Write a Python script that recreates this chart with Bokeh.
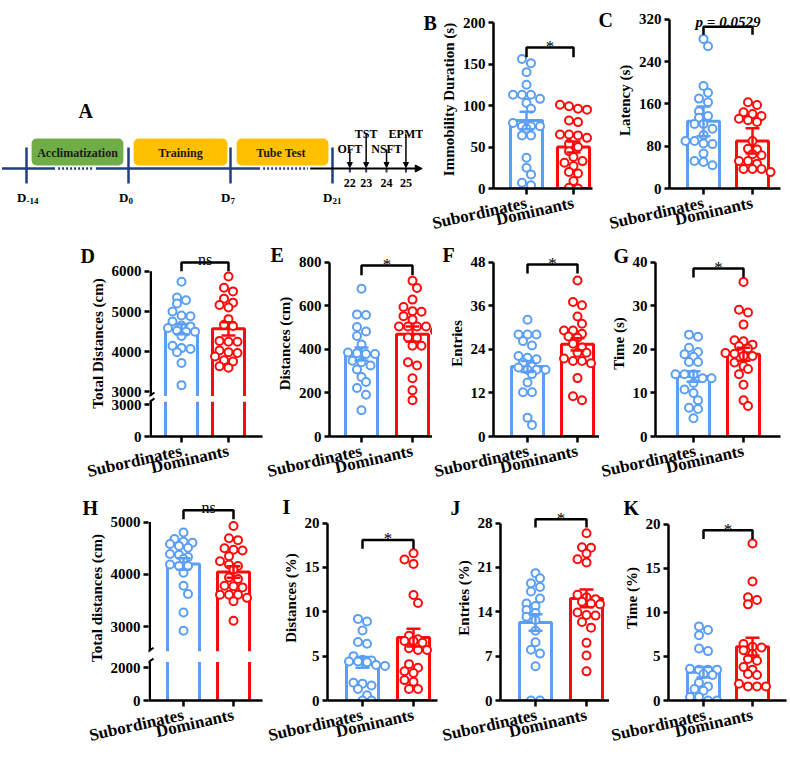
import math
from bokeh.plotting import figure
from bokeh.models import Range1d, FixedTicker, Arrow, NormalHead, ColumnDataSource, Title
from bokeh.layouts import row, column
from bokeh.core.properties import value
from bokeh.embed import file_html
from bokeh.resources import INLINE

FONT = "Liberation Serif"
BLUE = "#5A9FF5"
RED = "#FF0A0A"
NAVY = "#213F7F"

groups = ["Subordinates", "Dominants"]

# ---------------- data ----------------
B_sub = [156, 151, 140, 125, 113, 113, 113, 108, 103, 96, 79, 75, 75, 75, 72, 64, 64, 37, 25, 17, 7, 4]
B_dom = [101, 99, 96, 95, 82, 80, 65, 65, 64, 61, 54, 50, 45, 38, 33, 31, 27, 20, 18, 9, 1, 0]
B_mean = [82, 50]
B_sem = [10.5, 6.5]

C_sub = [283, 269, 194, 181, 170, 163, 146, 137, 134, 122, 122, 113, 101, 90, 90, 85, 84, 66, 52, 50, 44]
C_dom = [163, 158, 144, 141, 137, 132, 129, 126, 90, 75, 74, 65, 63, 52, 52, 47, 37, 37, 37, 31]
C_mean = [127, 90]
C_sem = [28, 24]

D_sub = [5740, 5350, 5280, 5200, 5000, 4900, 4880, 4750, 4650, 4630, 4590, 4520, 4500, 4500, 4390, 4150, 4090, 4070, 3990, 3720, 3170]
D_dom = [5870, 5590, 5500, 5320, 5220, 5160, 5100, 4810, 4670, 4640, 4270, 4250, 4250, 4030, 3990, 3970, 3880, 3790, 3760, 3640, 3600]
D_mean = [4560, 4570]
D_sem = [125, 165]

E_sub = [679, 561, 558, 503, 482, 462, 423, 386, 383, 379, 379, 348, 341, 326, 308, 273, 250, 223, 192, 121]
E_dom = [715, 682, 629, 595, 576, 573, 553, 538, 505, 505, 505, 505, 485, 455, 452, 417, 417, 341, 326, 268, 212, 167]
E_mean = [379, 470]
E_sem = [30, 35]

F_sub = [32.2, 28.1, 28.1, 28.1, 26.3, 25.1, 22.2, 21.7, 21.3, 20.4, 19.3, 19.0, 18.4, 18.4, 18.4, 17.2, 14.9, 12.2, 12.2, 5.2, 3.2]
F_dom = [43.0, 37.1, 36.2, 33.1, 31.1, 29.2, 29.2, 28.3, 27.6, 27.2, 25.6, 24.5, 23.1, 23.1, 21.5, 20.8, 20.8, 20.2, 16.1, 11.1, 10.0]
F_mean = [19.3, 25.4]
F_sem = [1.5, 1.7]

G_sub = [23.4, 22.9, 20.4, 19.4, 18.9, 18.3, 17.1, 17.1, 14.3, 14.3, 14.3, 13.4, 13.4, 12.3, 10.8, 10.0, 8.3, 6.6, 6.3, 4.2]
G_dom = [35.5, 29.1, 28.5, 25.7, 22.1, 21.9, 21.1, 20.8, 20.2, 19.2, 19.0, 18.5, 18.5, 17.0, 16.2, 15.5, 14.3, 11.9, 8.3, 7.0]
G_mean = [13.8, 18.9]
G_sem = [1.2, 1.5]

H_sub = [4800, 4675, 4625, 4605, 4580, 4545, 4510, 4390, 4375, 4330, 4295, 4190, 4160, 4160, 4030, 3780, 3625, 3270, 2920]
H_dom = [4925, 4690, 4655, 4500, 4470, 4455, 4345, 4250, 4190, 4160, 4095, 3940, 3910, 3780, 3770, 3750, 3610, 3610, 3610, 3550, 3485, 3110]
H_mean = [4200, 4045]
H_sem = [110, 110]

I_sub = [9.2, 8.9, 7.9, 6.6, 6.4, 5.0, 4.6, 4.5, 4.4, 4.4, 4.3, 4.0, 3.9, 2.0, 1.9, 1.7, 1.3, 0.6, 0.0, 0.0]
I_dom = [16.6, 15.9, 15.4, 11.9, 11.0, 7.3, 6.9, 6.7, 6.7, 6.5, 5.9, 5.7, 5.7, 4.1, 3.7, 3.3, 3.1, 2.3, 2.1, 1.3, 1.3]
I_mean = [4.3, 7.1]
I_sem = [0.6, 1.0]

J_sub = [20.1, 19.3, 18.5, 17.9, 17.2, 16.1, 15.3, 14.9, 14.3, 13.8, 13.2, 12.7, 11.0, 9.2, 8.0, 7.4, 5.4, 0.0, 0.0]
J_dom = [26.4, 24.2, 24.1, 23.2, 22.3, 21.8, 16.7, 16.3, 16.0, 15.6, 15.3, 15.2, 13.9, 13.5, 13.4, 12.4, 11.5, 9.1, 7.1, 4.6]
J_mean = [12.3, 16.1]
J_sem = [1.3, 1.4]

K_sub = [8.4, 8.0, 7.4, 5.9, 5.6, 3.6, 3.5, 3.5, 3.5, 3.0, 2.9, 2.0, 1.6, 1.3, 1.1, 0.4, 0.4, 0.0, 0.0]
K_dom = [17.8, 13.5, 11.7, 11.4, 10.9, 6.4, 6.1, 6.0, 5.7, 5.3, 4.7, 4.5, 3.8, 3.5, 3.0, 2.9, 1.9, 1.6, 1.6, 1.6]
K_mean = [3.2, 6.1]
K_sem = [0.6, 1.0]

# significance brackets: (top, drop, text)
B_sig = (170, 158, "*")
C_sig = (306, 291, "p = 0.0529")
D_sig = (6220, 6000, "ns")
E_sig = (786, 741, "*")
F_sig = (47.4, 44.9, "*")
G_sig = (38.6, 36.5, "*")
H_sig = (5226, 5057, "ns")
I_sig = (18.1, 17.1, "*")
J_sig = (28.6, 27.3, "*")
K_sig = (19.3, 18.3, "*")

# y ticks
B_ticks = [0, 50, 100, 150, 200]
C_ticks = [0, 80, 160, 240, 320]
D_ticks_up = [3000, 4000, 5000, 6000]
D_ticks_low = [0, 3000]
E_ticks = [0, 200, 400, 600, 800]
F_ticks = [0, 12, 24, 36, 48]
G_ticks = [0, 10, 20, 30, 40]
H_ticks_up = [3000, 4000, 5000]
H_ticks_low = [0, 2000]
I_ticks = [0, 5, 10, 15, 20]
J_ticks = [0, 7, 14, 21, 28]
K_ticks = [0, 5, 10, 15, 20]

# timeline schematic (panel A); x in schematic units (D-14=0, D0=1, D7=2, D21=3)
tl_ticks_u = [0, 1, 2, 3]
tl_tick_sub = ["-14", "0", "7", "21"]
phase_names = ["Acclimatization", "Training", "Tube  Test"]
phase_u0 = [0.05, 1.05, 2.06]
phase_u1 = [0.95, 1.97, 2.96]
phase_colors = ["#70AD47", "#FFC000", "#FFC000"]
tests = ["OFT", "TST", "NSFT", "EPMT"]
test_days = ["22", "23", "24", "25"]
test_u = [3.17, 3.33, 3.53, 3.72]
test_level = [149, 134, 149, 134]
solid_u0 = [-0.24, 0.68]
solid_u1 = [0.28, 2.29]
dotted_u0 = [0.31, 2.32]
dotted_u1 = [0.65, 2.76]
arrow_u = [2.78, 3.88]


# ---------------- helpers ----------------
def no_align(p):
    try:
        p.frame_align = False
    except Exception:
        pass


def swarm(vals, ppx, ppy, spacing=9.0, thresh=5.0, diam=8.5):
    n = len(vals)
    order = sorted(range(n), key=lambda i: -vals[i])
    clusters = []
    for i in order:
        yp = vals[i] * ppy
        if clusters and abs(clusters[-1][0] - yp) < thresh:
            clusters[-1][1].append(i)
        else:
            clusters.append([yp, [i]])
    placed = []
    offs = [0.0] * n
    for _, members in clusters:
        m = len(members)
        base = [(k - (m - 1) / 2.0) * spacing for k in range(m)]

        def dist(shift):
            ds = [math.hypot(b + shift - a, vals[i] * ppy - c)
                  for b, i in zip(base, members) for a, c in placed]
            return min(ds) if ds else 99.0

        best_s, best_d = 0.0, dist(0.0)
        if best_d < diam:
            for s in (spacing / 2.0, -spacing / 2.0):
                d = dist(s)
                if d > best_d + 0.5:
                    best_s, best_d = s, d
        for b, i in zip(base, members):
            offs[i] = (b + best_s) / ppx
            placed.append((b + best_s, vals[i] * ppy))
    return offs


def mapping(frame, ymap):
    l, t, r, b = frame
    (va, ya), (vb, yb) = ymap
    ppy = (ya - yb) / float(vb - va)
    y0 = va - (b - ya) / ppy
    y1 = va + (ya - t) / ppy
    return ppy, y0, y1


def make_fig(box, frame, xcat, ymap):
    fx, fy, fw, fh = box
    l, t, r, b = frame
    xc0, xc1 = xcat
    ppx = float(xc1 - xc0)
    x0 = -(xc0 - l) / ppx
    x1 = (r - xc0) / ppx
    ppy, y0, y1 = mapping(frame, ymap)
    p = figure(width=fw, height=fh, x_range=Range1d(x0, x1), y_range=Range1d(y0, y1),
               toolbar_location=None, output_backend="svg", title=None,
               min_border_left=l - fx, min_border_right=fx + fw - r,
               min_border_top=t - fy, min_border_bottom=fy + fh - b)
    no_align(p)
    p.outline_line_color = None
    p.xgrid.visible = False
    p.ygrid.visible = False
    p.border_fill_color = "white"
    p.background_fill_color = "white"
    return p, ppx, ppy, (x0, x1), (y0, y1)


def add_letter(p, txt, letter_x, baseline, frame):
    l, t, r, b = frame
    so = 2.0 * (t - 4.3 - baseline)
    kw = dict(text=txt, align="left", vertical_align="bottom", offset=letter_x - l,
              text_font=FONT, text_font_style="bold", text_font_size="20px", text_color="black")
    try:
        ttl = Title(standoff=so, **kw)
    except Exception:
        ttl = Title(standoff=0, **kw)
    p.add_layout(ttl, "above")


def style_axes(p, yticks, ybounds, ylabel=None):
    for ax in p.axis:
        ax.axis_line_width = 2.5
        ax.axis_line_color = "black"
        ax.major_tick_line_width = 2.5
        ax.major_tick_line_color = "black"
        ax.major_tick_in = 0
        ax.minor_tick_line_color = None
        ax.major_label_text_font = FONT
        ax.major_label_text_font_style = "bold"
        ax.major_label_text_color = "black"
        ax.axis_label_text_font = FONT
        ax.axis_label_text_font_style = "bold"
        ax.axis_label_text_font_size = "15px"
        ax.axis_label_text_color = "black"
    ya = p.yaxis[0]
    ya.ticker = FixedTicker(ticks=yticks)
    ya.bounds = ybounds
    ya.major_tick_out = 5
    ya.major_label_text_font_size = "15px"
    ya.major_label_standoff = 3
    if ylabel:
        ya.axis_label = ylabel
        ya.axis_label_standoff = 3
    xa = p.xaxis[0]
    xa.ticker = FixedTicker(ticks=[0, 1])
    xa.major_label_overrides = {0: groups[0], 1: groups[1]}
    xa.major_label_orientation = 0.22
    xa.major_label_text_font_size = "17px"
    xa.major_label_standoff = 8
    xa.major_tick_out = 6


def draw_bars(p, means, ppx, bw_px=32):
    p.vbar(x=[0, 1], top=means, bottom=0, width=bw_px / ppx, fill_color="white",
           line_color=[BLUE, RED], line_width=3)


def draw_points(p, vals_list, means, sems, ppx, ppy):
    colors = [BLUE, RED]
    for gi in range(2):
        offs = swarm(vals_list[gi], ppx, ppy)
        p.scatter(x=[gi + o for o in offs], y=vals_list[gi], marker="circle", size=8,
                  line_color=colors[gi], fill_color="white", line_width=2)
    cap = 7.0 / ppx
    lo = [m - s for m, s in zip(means, sems)]
    hi = [m + s for m, s in zip(means, sems)]
    p.segment(x0=[0, 1], y0=lo, x1=[0, 1], y1=hi, line_color=colors, line_width=2.5)
    p.segment(x0=[-cap, 1 - cap], y0=hi, x1=[cap, 1 + cap], y1=hi, line_color=colors, line_width=2.5)
    p.segment(x0=[-cap, 1 - cap], y0=lo, x1=[cap, 1 + cap], y1=lo, line_color=colors, line_width=2.5)


def draw_sig(p, sig):
    top, drop, txt = sig
    p.line(x=[0, 0, 1, 1], y=[drop, top, top, drop], line_color="black", line_width=2.5)
    if txt == "*":
        p.text(x=[0.5], y=[top], text=[txt], text_align="center", text_baseline="alphabetic",
               y_offset=-1, text_font=value(FONT), text_font_size="17px", text_color="black")
    elif txt == "ns":
        p.text(x=[0.5], y=[top], text=[txt], text_align="center", text_baseline="alphabetic",
               y_offset=-3, text_font=value(FONT), text_font_size="16px", text_color="black")
    else:
        p.text(x=[0.5], y=[top], text=[txt], text_align="center", text_baseline="alphabetic",
               y_offset=-5, text_font=value(FONT), text_font_size="15px",
               text_font_style="bold italic", text_color="black")


def simple_panel(box, frame, xcat, ymap, vals, means, sems, sig, yticks, ylabel, let, let_pos):
    p, ppx, ppy, _, _ = make_fig(box, frame, xcat, ymap)
    draw_bars(p, means, ppx)
    draw_points(p, vals, means, sems, ppx, ppy)
    draw_sig(p, sig)
    style_axes(p, yticks, (0, yticks[-1]), ylabel)
    add_letter(p, let, let_pos[0], let_pos[1], frame)
    return p


def broken_panel(box, frame, xcat, ymap_up, ymap_low, brk_px, vals, means, sems, sig,
                 ticks_up, ticks_low, ylabel, let, let_pos, bw_px=32):
    """One figure, y axis broken in two segments: upper segment on the main range,
    lower segment on an extra range named 'low'."""
    l, t, r, b = frame
    p, ppx, ppy, (x0, x1), (y0, y1) = make_fig(box, frame, xcat, ymap_up)
    ppl, yl0, yl1 = mapping(frame, ymap_low)
    p.extra_y_ranges = {"low": Range1d(yl0, yl1)}
    brk_hi = y0 + (b - brk_px[0]) / ppy      # bottom end of the upper segment (main range)
    brk_lo = yl0 + (b - brk_px[1]) / ppl     # top end of the lower segment ('low' range)
    colors = [BLUE, RED]
    hw = 0.5 * bw_px / ppx
    # upper parts of the bars (no bottom edge at the break)
    p.quad(left=[-hw, 1 - hw], right=[hw, 1 + hw], bottom=[brk_hi, brk_hi], top=means,
           fill_color="white", line_color=None)
    p.multi_line(xs=[[c - hw, c - hw, c + hw, c + hw] for c in (0, 1)],
                 ys=[[brk_hi, m, m, brk_hi] for m in means], line_color=colors, line_width=3)
    # lower parts of the bars (sides only)
    p.segment(x0=[-hw, hw, 1 - hw, 1 + hw], y0=[0] * 4, x1=[-hw, hw, 1 - hw, 1 + hw],
              y1=[brk_lo] * 4, line_color=[BLUE, BLUE, RED, RED], line_width=3, y_range_name="low")
    draw_points(p, vals, means, sems, ppx, ppy)
    draw_sig(p, sig)
    # lower ticks expressed on the main range so one axis carries both segments
    low_pos = [y0 + (v - yl0) * ppl / ppy for v in ticks_low]
    style_axes(p, low_pos + list(ticks_up), (y0, ticks_up[-1]), ylabel)
    ya = p.yaxis[0]
    ya.major_label_overrides = {pos: str(v) for pos, v in zip(low_pos, ticks_low)}
    ya.axis_line_color = None
    # axis line drawn in two pieces, with the gap of the break
    xl = x0 + 1.25 / ppx
    p.segment(x0=[xl], y0=[brk_hi], x1=[xl], y1=[ticks_up[-1]], line_color="black", line_width=2.5)
    p.segment(x0=[xl], y0=[0], x1=[xl], y1=[brk_lo], line_color="black", line_width=2.5,
              y_range_name="low")
    # break marks
    dx = 5.0 / ppx
    p.segment(x0=[x0 - dx], y0=[brk_hi - 3.5 / ppy], x1=[x0 + dx], y1=[brk_hi + 3.5 / ppy],
              line_color="black", line_width=2)
    p.segment(x0=[x0 - dx], y0=[brk_lo - 3.5 / ppl], x1=[x0 + dx], y1=[brk_lo + 3.5 / ppl],
              line_color="black", line_width=2, y_range_name="low")
    add_letter(p, let, let_pos[0], let_pos[1], frame)
    return p


# ---------------- panel A: timeline (x: schematic units, y: -screen px) ----------------
pa = figure(width=423, height=245, x_range=Range1d(-26 / 102.0, 397 / 102.0),
            y_range=Range1d(-245, 0), toolbar_location=None, output_backend="svg", title=None,
            min_border_left=0, min_border_right=0, min_border_top=0, min_border_bottom=0,
            x_axis_location=None, y_axis_location=None)
no_align(pa)
pa.outline_line_color = None
pa.xgrid.visible = False
pa.ygrid.visible = False

LINE_Y = -168
pa.segment(x0=solid_u0, y0=[LINE_Y] * 2, x1=solid_u1, y1=[LINE_Y] * 2, line_color=NAVY, line_width=2.5)
pa.segment(x0=dotted_u0, y0=[LINE_Y] * 2, x1=dotted_u1, y1=[LINE_Y] * 2, line_color=NAVY,
           line_width=2.5, line_dash="2 2")
pa.add_layout(Arrow(end=NormalHead(size=7, fill_color="black", line_color="black"),
                    x_start=arrow_u[0], y_start=LINE_Y, x_end=arrow_u[1], y_end=LINE_Y,
                    line_color="black", line_width=2))
try:
    pa.quad(left=phase_u0, right=phase_u1, top=[-138] * 3, bottom=[-165] * 3, fill_color=phase_colors,
            line_color=None, border_radius=5)
except Exception:
    pa.quad(left=phase_u0, right=phase_u1, top=[-138] * 3, bottom=[-165] * 3, fill_color=phase_colors,
            line_color=None)
pa.text(x=[(a + b) / 2 for a, b in zip(phase_u0, phase_u1)], y=[-152] * 3, text=phase_names,
        text_align="center", text_baseline="middle", text_font=value(FONT), text_font_style="bold",
        text_font_size="12px", text_color="#1A1A1A")
pa.segment(x0=tl_ticks_u, y0=[-147] * 4, x1=tl_ticks_u, y1=[-183] * 4, line_color=NAVY, line_width=2.5)
pa.text(x=tl_ticks_u, y=[-197] * 4, text=["D"] * 4, text_align="right", text_baseline="alphabetic",
        text_font=value(FONT), text_font_style="bold", text_font_size="13px", text_color="black")
pa.text(x=tl_ticks_u, y=[-200] * 4, text=tl_tick_sub, text_align="left", text_baseline="alphabetic",
        text_font=value(FONT), text_font_style="bold", text_font_size="9px", text_color="black")
pa.segment(x0=test_u, y0=[LINE_Y] * 4, x1=test_u, y1=[LINE_Y - 4] * 4, line_color=NAVY, line_width=2)
tsrc = ColumnDataSource(dict(x=test_u, y0=[-v for v in test_level], y1=[LINE_Y + 1] * 4))
pa.add_layout(Arrow(end=NormalHead(size=5, fill_color="black", line_color="black"),
                    x_start="x", y_start="y0", x_end="x", y_end="y1", source=tsrc,
                    line_color="black", line_width=1.5))
pa.text(x=test_u, y=[-(v - 1) for v in test_level], text=tests, text_align="center",
        text_baseline="alphabetic", text_font=value(FONT), text_font_style="bold",
        text_font_size="12px", text_color="black")
pa.text(x=test_u, y=[-182] * 4, text=test_days, text_align="center", text_baseline="alphabetic",
        text_font=value(FONT), text_font_style="bold", text_font_size="12px", text_color="black")
pa.text(x=[(78 - 26) / 102.0], y=[-110], text=["A"], text_align="left", text_baseline="alphabetic",
        text_font=value(FONT), text_font_style="bold", text_font_size="20px", text_color="black")

# ---------------- row 1 (y 0..245) ----------------
pB = simple_panel((423, 0, 174, 245), (493, 10, 592, 188), (526, 573), ((0, 188), (200, 22)),
                  [B_sub, B_dom], B_mean, B_sem, B_sig, B_ticks, "Immobility Duration (s)", "B", (423, 29))
pC = simple_panel((597, 0, 193, 245), (669, 8, 780, 191), (703, 752), ((0, 191), (320, 19)),
                  [C_sub, C_dom], C_mean, C_sem, C_sig, C_ticks, "Latency  (s)", "C", (598, 26))

# ---------------- row 2 (y 245..493) ----------------
pD = broken_panel((0, 245, 265, 248), (149, 250, 262, 438), (181, 228),
                  ((3000, 393), (6000, 271)), ((0, 438), (3000, 406)), (397, 403),
                  [D_sub, D_dom], D_mean, D_sem, D_sig, D_ticks_up, D_ticks_low,
                  "Total Distances (cm)", "D", (80, 262))
pE = simple_panel((265, 245, 167, 248), (329, 250, 432, 438), (361, 412), ((0, 438), (800, 262)),
                  [E_sub, E_dom], E_mean, E_sem, E_sig, E_ticks, "Distances (cm)", "E", (270, 261))
pF = simple_panel((432, 245, 167, 248), (493, 250, 599, 438), (527, 577), ((0, 438), (48, 262)),
                  [F_sub, F_dom], F_mean, F_sem, F_sig, F_ticks, "Entries", "F", (442, 261))
pG = simple_panel((599, 245, 191, 248), (655, 250, 780, 438), (693, 743), ((0, 438), (40, 262)),
                  [G_sub, G_dom], G_mean, G_sem, G_sig, G_ticks, "Time (s)", "G", (613, 262))

# ---------------- row 3 (y 493..757) ----------------
pH = broken_panel((0, 493, 265, 264), (148, 495, 262, 703), (183, 233),
                  ((3000, 628), (5000, 522)), ((0, 703), (2000, 670)), (653, 664),
                  [H_sub, H_dom], H_mean, H_sem, H_sig, H_ticks_up, H_ticks_low,
                  "Total distances (cm)", "H", (82, 514))
pI = simple_panel((265, 493, 175, 264), (327, 495, 437, 703), (362, 413), ((0, 703), (20, 523)),
                  [I_sub, I_dom], I_mean, I_sem, I_sig, I_ticks, "Distances (%)", "I", (282, 513))
pJ = simple_panel((440, 493, 169, 264), (500, 495, 609, 703), (535, 586), ((0, 703), (28, 523)),
                  [J_sub, J_dom], J_mean, J_sem, J_sig, J_ticks, "Entries (%)", "J", (450, 514))
pK = simple_panel((609, 493, 181, 264), (668, 495, 786, 703), (703, 752), ((0, 703), (20, 524)),
                  [K_sub, K_dom], K_mean, K_sem, K_sig, K_ticks, "Time (%)", "K", (623, 514))

layout = column(
    row(pa, pB, pC, spacing=0),
    row(pD, pE, pF, pG, spacing=0),
    row(pH, pI, pJ, pK, spacing=0),
    spacing=0,
)

open("out.html", "w").write(file_html(layout, INLINE))
